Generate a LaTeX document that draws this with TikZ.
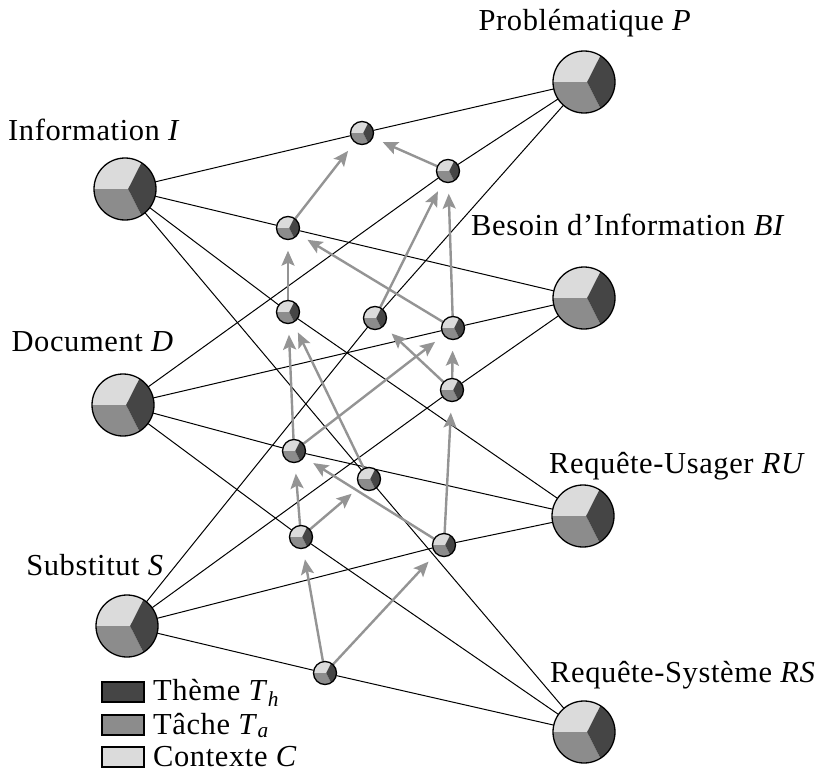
\documentclass[tikz,border=0pt]{standalone}
\usepackage{fontspec}
\setmainfont{Liberation Serif}[LetterSpace=2]
\usetikzlibrary{arrows.meta}
\definecolor{thm}{gray}{0.27}
\definecolor{tch}{gray}{0.55}
\definecolor{ctx}{gray}{0.86}
\definecolor{arr}{gray}{0.58}
\newcommand\mypie[2]{%
  \begin{scope}[shift={(#1.center)}]
    \coordinate (J) at ({0.1*#2pt},0pt);
    \fill[ctx] (J) -- (58:#2pt) arc[start angle=58,end angle=180,radius=#2pt] -- cycle;
    \fill[tch] (J) -- (180:#2pt) arc[start angle=180,end angle=302,radius=#2pt] -- cycle;
    \fill[thm] (J) -- (-58:#2pt) arc[start angle=-58,end angle=58,radius=#2pt] -- cycle;
    \draw[line width=1.3pt] (0pt,0pt) circle[radius=#2pt];
  \end{scope}}
\tikzset{
  big/.style={circle,minimum size=62pt,inner sep=0pt},
  small/.style={circle,minimum size=23pt,inner sep=0pt},
  link/.style={line width=1pt,black},
  flow/.style={draw=arr,line width=2.4pt,-{Stealth[length=15pt,width=13pt,inset=3pt]},shorten >=11pt},
  lbl/.style={inner sep=0pt,font=\fontsize{30.5}{32}\selectfont},
  legbox/.style={draw,line width=1.5pt,minimum width=42pt,minimum height=20pt,inner sep=0pt}
}
\begin{document}
\begin{tikzpicture}[x=1pt,y=-1pt]
\useasboundingbox (0,0) rectangle (819,776);
% big nodes
\node[big] (I)  at (125,189) {};
\node[big] (D)  at (123,405) {};
\node[big] (S)  at (127,626) {};
\node[big] (P)  at (584,82)  {};
\node[big] (BI) at (584,298) {};
\node[big] (RU) at (583,516) {};
\node[big] (RS) at (584,732) {};
% small nodes
\node[small] (n1)  at (362,133) {};
\node[small] (n2)  at (448,171) {};
\node[small] (n3)  at (288,228) {};
\node[small] (n4)  at (288,312) {};
\node[small] (n5)  at (375,318) {};
\node[small] (n6)  at (453,328) {};
\node[small] (n7)  at (452,390) {};
\node[small] (n8)  at (294,451) {};
\node[small] (n9)  at (369,479) {};
\node[small] (n10) at (301,537) {};
\node[small] (n11) at (444,545) {};
\node[small] (n12) at (325,673) {};
% links
\draw[link] (I) -- (n1) -- (P);
\draw[link] (D) -- (n2) -- (P);
\draw[link] (I) -- (n3) -- (BI);
\draw[link] (I) -- (n4) -- (RU);
\draw[link] (S) -- (n5) -- (P);
\draw[link] (D) -- (n6) -- (BI);
\draw[link] (S) -- (n7) -- (BI);
\draw[link] (D) -- (n8) -- (RU);
\draw[link] (I) -- (n9) -- (RS);
\draw[link] (D) -- (n10) -- (RS);
\draw[link] (S) -- (n11) -- (RU);
\draw[link] (S) -- (n12) -- (RS);
% flows
\draw[flow] (n3) -- (n1);
\draw[flow] (n2) -- (n1);
\draw[flow] (n4) -- (n3);
\draw[flow] (n6) -- (n3);
\draw[flow] (n5) -- (n2);
\draw[flow] (n6) -- (n2);
\draw[flow] (n8) -- (n4);
\draw[flow] (n9) -- (n4);
\draw[flow] (n8) -- (n6);
\draw[flow] (n7) -- (n6);
\draw[flow] (n7) -- (n5);
\draw[flow] (n11) -- (n7);
\draw[flow] (n11) -- (n8);
\draw[flow] (n10) -- (n8);
\draw[flow] (n10) -- (n9);
\draw[flow] (n12) -- (n10);
\draw[flow] (n12) -- (n11);
% pies
\foreach \n in {I,D,S,P,BI,RU,RS} {\mypie{\n}{31}}
\foreach \n in {n1,n2,n3,n4,n5,n6,n7,n8,n9,n10,n11,n12} {\mypie{\n}{11.5}}
% labels
\node[lbl,anchor=base] (lP)  at (585,31)  {Problématique \textit{P}};
\node[lbl,anchor=base west] (lI)  at (8,140)   {Information \textit{I}};
\node[lbl,anchor=base west] (lBI) at (471,235) {Besoin d’Information \textit{BI}};
\node[lbl,anchor=base east] (lD)  at (174,351) {Document \textit{D}};
\node[lbl,anchor=base west] (lRU) at (549,473) {Requête-Usager \textit{RU}};
\node[lbl,anchor=base east] (lS)  at (164,575) {Substitut \textit{S}};
\node[lbl,anchor=base west] (lRS) at (550,682) {Requête-Système \textit{RS}};
% legend
\node[legbox,fill=thm] (k1) at (123,692) {};
\node[legbox,fill=tch] (k2) at (123,725) {};
\node[legbox,fill=ctx] (k3) at (123,757) {};
\node[lbl,anchor=base west] (t1) at (153,700) {Thème \textit{T}\textsubscript{\textit{h}}};
\node[lbl,anchor=base west] (t2) at (153,734) {Tâche \textit{T}\textsubscript{\textit{a}}};
\node[lbl,anchor=base west] (t3) at (153,766) {Contexte \textit{C}};
\end{tikzpicture}
\end{document}
